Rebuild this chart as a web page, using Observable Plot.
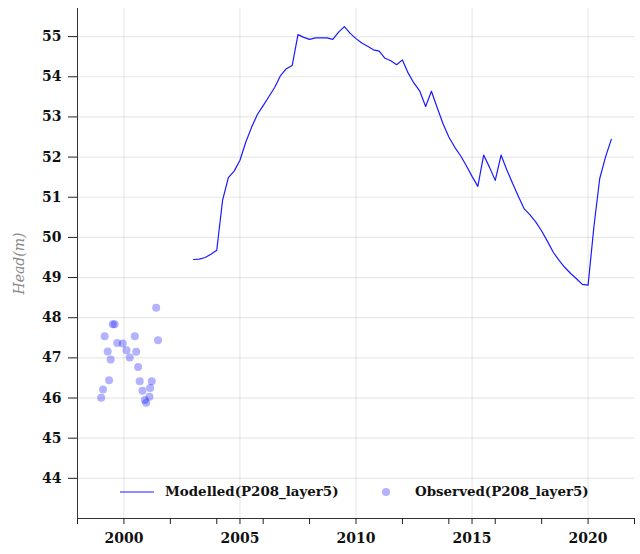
<!DOCTYPE html>
<html>
<head>
<meta charset="utf-8">
<script src="https://cdn.jsdelivr.net/npm/d3@7"></script>
<script src="https://cdn.jsdelivr.net/npm/@observablehq/plot@0.6"></script>
<style>
  body { margin: 0; background: white; }
  #wrap { position: relative; width: 640px; height: 554px; }
  .leg { position: absolute; font: bold 13.4px "DejaVu Serif", serif; color: #111; white-space: nowrap; line-height: 1; }
</style>
</head>
<body>
<div id="wrap"></div>
<script>
// Modelled head (quarterly)
const modelYears = [2003.00,2003.25,2003.50,2003.75,2004.00,2004.25,2004.50,2004.75,
  2005.00,2005.25,2005.50,2005.75,2006.00,2006.25,2006.50,2006.75,
  2007.00,2007.25,2007.50,2007.75,2008.00,2008.25,2008.50,2008.75,
  2009.00,2009.25,2009.50,2009.75,2010.00,2010.25,2010.50,2010.75,
  2011.00,2011.25,2011.50,2011.75,2012.00,2012.25,2012.50,2012.75,
  2013.00,2013.25,2013.50,2013.75,2014.00,2014.25,2014.50,2014.75,
  2015.00,2015.25,2015.50,2015.75,2016.00,2016.25,2016.50,2016.75,
  2017.00,2017.25,2017.50,2017.75,2018.00,2018.25,2018.50,2018.75,
  2019.00,2019.25,2019.50,2019.75,2020.00,2020.25,2020.50,2020.75,2021.00];
const modelHead = [49.45,49.46,49.50,49.58,49.68,50.92,51.49,51.65,
  51.92,52.37,52.74,53.06,53.28,53.51,53.74,54.03,
  54.20,54.28,55.05,54.98,54.93,54.97,54.97,54.97,
  54.93,55.11,55.25,55.08,54.95,54.84,54.76,54.67,
  54.64,54.46,54.40,54.30,54.42,54.09,53.84,53.64,
  53.26,53.64,53.23,52.83,52.50,52.25,52.04,51.79,
  51.52,51.27,52.05,51.75,51.42,52.05,51.68,51.34,
  51.02,50.71,50.56,50.38,50.16,49.90,49.63,49.43,
  49.25,49.10,48.97,48.83,48.81,50.26,51.46,52.00,52.44];

// Observed head
const obsYears = [1999.02,1999.10,1999.17,1999.30,1999.36,1999.43,1999.52,1999.60,
  1999.71,1999.95,2000.11,2000.25,2000.47,2000.53,2000.61,2000.68,
  2000.80,2000.90,2000.96,2001.10,2001.13,2001.20,2001.39,2001.47];
const obsHead = [46.01,46.21,47.54,47.16,46.44,46.96,47.84,47.84,
  47.37,47.36,47.19,47.01,47.54,47.15,46.77,46.42,
  46.18,45.95,45.88,46.03,46.25,46.42,48.25,47.44];

const xTicks = [1998,2000,2002,2004,2005,2006,2008,2010,2012,2014,2015,2016,2018,2020,2022];
const xLabels = [2000,2005,2010,2015,2020];
const yTicks = [44,45,46,47,48,49,50,51,52,53,54,55];

const seriesNames = ["Modelled(P208_layer5)", "Observed(P208_layer5)"];

const modelled = modelYears.map((t, i) => ({t, h: modelHead[i]}));
const observed = obsYears.map((t, i) => ({t, h: obsHead[i]}));

const chart = Plot.plot({
  width: 640,
  height: 554,
  marginLeft: 77,
  marginRight: 6,
  marginTop: 8,
  marginBottom: 36,
  style: {fontFamily: "'DejaVu Serif', serif", fontSize: "14px", fontWeight: "bold", color: "#111", background: "white"},
  x: {domain: [1998, 2022]},
  y: {domain: [43, 55.7]},
  marks: [
    Plot.gridX(xLabels, {stroke: "#000", strokeOpacity: 0.09, strokeWidth: 1.2}),
    Plot.gridY(yTicks, {stroke: "#000", strokeOpacity: 0.09, strokeWidth: 1.2}),
    Plot.ruleX([1998], {stroke: "#333"}),
    Plot.ruleY([43], {stroke: "#333"}),
    Plot.axisX(xTicks, {tickSize: 6, tickPadding: 9, stroke: "#222", tickFormat: d => xLabels.includes(d) ? String(d) : "", label: null}),
    Plot.axisY(yTicks, {tickSize: 9, tickPadding: 7, stroke: "#222", label: "Head(m)", labelAnchor: "center", labelArrow: "none", labelOffset: 63}),
    Plot.line(modelled, {x: "t", y: "h", stroke: "#1a1aff", strokeWidth: 1.2}),
    Plot.dot(observed, {x: "t", y: "h", r: 4, fill: "#0000ff", fillOpacity: 0.3, stroke: "none"})
  ]
});

const wrap = document.getElementById("wrap");
wrap.appendChild(chart);

// style y-axis label
d3.select(chart).selectAll('g[aria-label="y-axis label"] text')
  .style("font-style", "italic").style("font-weight", "normal").style("fill", "#888").style("font-size", "14px");

// legend overlay inside plot area
const legendHTML = `
  <div class="leg" style="left:120px;top:486px;"><svg width="34" height="12"><line x1="0" x2="34" y1="6" y2="6" stroke="#1a1aff" stroke-width="1.2"/></svg></div>
  <div class="leg" style="left:165px;top:485px;">${seriesNames[0]}</div>
  <div class="leg" style="left:380px;top:486px;"><svg width="12" height="12"><circle cx="6" cy="6" r="4" fill="#0000ff" fill-opacity="0.3"/></svg></div>
  <div class="leg" style="left:415px;top:485px;">${seriesNames[1]}</div>`;
wrap.insertAdjacentHTML("beforeend", legendHTML);
</script>
</body>
</html>
